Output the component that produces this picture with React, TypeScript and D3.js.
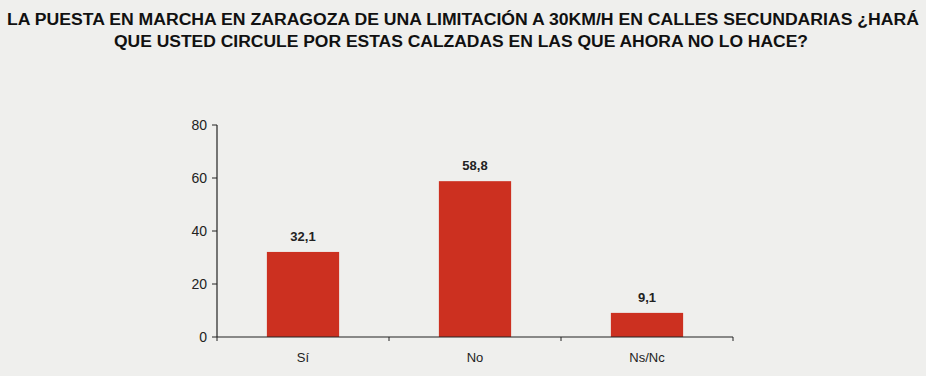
import React from "react";
import * as d3 from "d3";

const categories = ["Sí", "No", "Ns/Nc"];
const values = [32.1, 58.8, 9.1];
const valueLabels = ["32,1", "58,8", "9,1"];
const yTicks = [0, 20, 40, 60, 80];
const titleLines = [
  "LA PUESTA EN MARCHA EN ZARAGOZA DE UNA LIMITACIÓN A 30KM/H EN CALLES SECUNDARIAS ¿HARÁ",
  "QUE USTED CIRCULE POR ESTAS CALZADAS EN LAS QUE AHORA NO LO HACE?",
];

export default function App() {
  const W = 926, H = 376;
  const x0 = 217, x1 = 733, yTop = 125, yBot = 337;
  const x = d3.scaleBand<string>().domain(categories).range([x0, x1]).paddingInner(0.58).paddingOuter(0.29);
  const y = d3.scaleLinear().domain([0, 80]).range([yBot, yTop]);
  const band = d3.scaleBand<string>().domain(categories).range([x0, x1]);
  const font = "'Liberation Sans', Arial, sans-serif";
  return (
    <svg width={W} height={H} style={{ position: "absolute", left: 0, top: 0 }}>
      <rect x={0} y={0} width={W} height={H} fill="#efefed" />
      <text x={463} y={25} textAnchor="middle" fontFamily={font} fontWeight="bold" fontSize={16} fill="#111" textLength={912} lengthAdjust="spacingAndGlyphs">{titleLines[0]}</text>
      <text x={461} y={47} textAnchor="middle" fontFamily={font} fontWeight="bold" fontSize={16} fill="#111" textLength={694} lengthAdjust="spacingAndGlyphs">{titleLines[1]}</text>
      {categories.map((c, i) => (
        <g key={c}>
          <rect x={x(c)} y={y(values[i])} width={x.bandwidth()} height={yBot - y(values[i])} fill="#cc3020" />
          <text x={(x(c) as number) + x.bandwidth() / 2} y={y(values[i]) - 11} textAnchor="middle" fontFamily={font} fontWeight="bold" fontSize={13} fill="#222">{valueLabels[i]}</text>
          <text x={(x(c) as number) + x.bandwidth() / 2} y={362} textAnchor="middle" fontFamily={font} fontSize={13} fill="#222">{c}</text>
        </g>
      ))}
      <line x1={x0} x2={x0} y1={yTop} y2={yBot} stroke="#222" strokeWidth={1.2} />
      <line x1={x0} x2={x1} y1={yBot} y2={yBot} stroke="#222" strokeWidth={1.2} />
      {yTicks.map((t) => (
        <g key={t}>
          <line x1={x0 - 5} x2={x0} y1={y(t)} y2={y(t)} stroke="#222" />
          <text x={x0 - 10} y={y(t) + 5} textAnchor="end" fontFamily={font} fontSize={14} fill="#222">{t}</text>
        </g>
      ))}
      {categories.map((c) => (
        <line key={"t" + c} x1={(band(c) as number) + band.bandwidth()} x2={(band(c) as number) + band.bandwidth()} y1={yBot} y2={yBot + 4} stroke="#222" />
      ))}
      <line x1={x0} x2={x0} y1={yBot} y2={yBot + 4} stroke="#222" />
    </svg>
  );
}
